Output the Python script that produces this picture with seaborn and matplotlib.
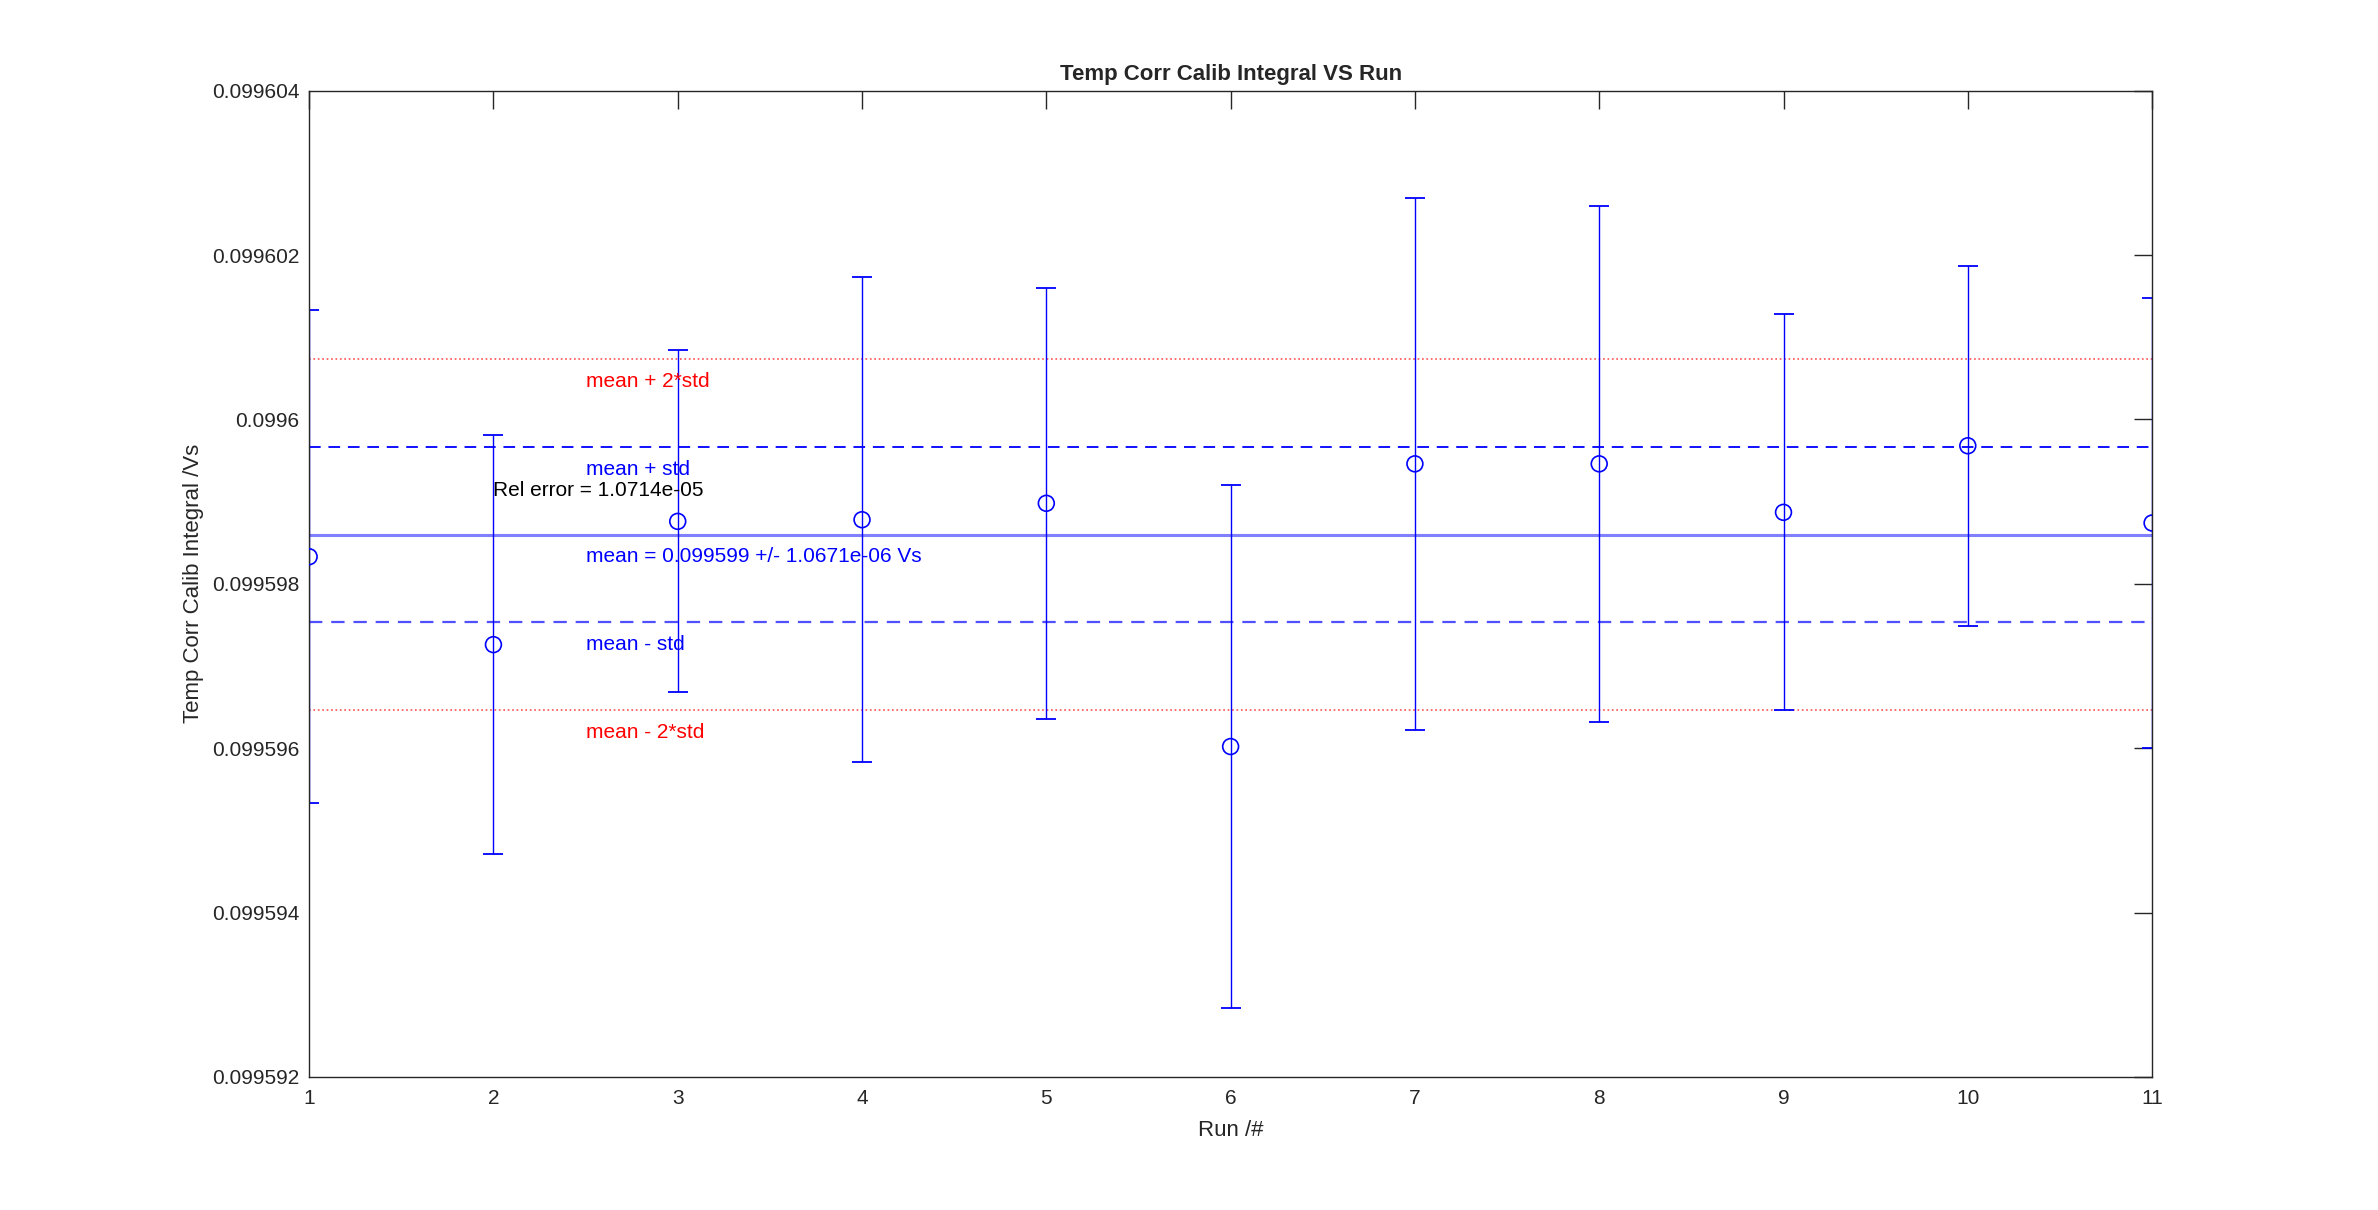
import matplotlib
matplotlib.use('Agg')
import matplotlib.pyplot as plt
import numpy as np
import pandas as pd
import seaborn as sns

# Data
runs = [1, 2, 3, 4, 5, 6, 7, 8, 9, 10, 11]
integral = [0.09959833, 0.09959726, 0.09959876, 0.09959878, 0.09959898, 0.09959602,
            0.09959946, 0.09959946, 0.09959887, 0.09959968, 0.09959874]
integral_err = [3.00e-6, 2.55e-6, 2.08e-6, 2.95e-6, 2.62e-6, 3.18e-6,
                3.24e-6, 3.14e-6, 2.41e-6, 2.19e-6, 2.74e-6]
mean_val = 0.0995986
std_val = 1.0671e-6
rel_error = 1.0714e-05

y_ticks = [0.099592, 0.099594, 0.099596, 0.099598, 0.0996, 0.099602, 0.099604]
y_tick_labels = ['0.099592', '0.099594', '0.099596', '0.099598', '0.0996', '0.099602', '0.099604']

df = pd.DataFrame({'run': runs, 'value': integral, 'err': integral_err})

sns.set_style('white')
plt.rcParams['font.family'] = ['Liberation Sans', 'DejaVu Sans']
plt.rcParams['font.size'] = 15

fig = plt.figure(figsize=(23.78, 12.10), dpi=100)
ax = fig.add_axes([0.13, 0.11, 0.775, 0.815])

# reference lines
ax.axhline(mean_val + 2 * std_val, color='#ff5050', linestyle=':', linewidth=1.2)
ax.axhline(mean_val - 2 * std_val, color='#ff5050', linestyle=':', linewidth=1.2)
ax.axhline(mean_val + std_val, color='#1010ff', linestyle=(0, (6, 4)), linewidth=1.4)
ax.axhline(mean_val - std_val, color='#5050ff', linestyle=(0, (6, 4)), linewidth=1.6)
ax.axhline(mean_val, color='#8080ff', linestyle='-', linewidth=2.2)

# error bars + points
ax.errorbar(df['run'], df['value'], yerr=df['err'], fmt='none', ecolor='#0000ff',
            elinewidth=1.0, capsize=7, capthick=1.3)
sns.scatterplot(data=df, x='run', y='value', ax=ax, marker='o', s=130,
                facecolor='none', edgecolor='#0000ff', linewidth=1.2, zorder=5)

off = 0.27e-6
ax.text(2.5, mean_val + 2 * std_val - off, 'mean + 2*std', color='#ff0000', va='center')
ax.text(2.5, mean_val + std_val - off, 'mean + std', color='#0000ff', va='center')
ax.text(2.5, mean_val - off, 'mean = 0.099599 +/- 1.0671e-06 Vs', color='#0000ff', va='center')
ax.text(2.5, mean_val - std_val - off, 'mean - std', color='#0000ff', va='center')
ax.text(2.5, mean_val - 2 * std_val - off, 'mean - 2*std', color='#ff0000', va='center')
ax.text(2.0, mean_val + 0.5 * std_val, 'Rel error = %.4e' % rel_error, color='black', va='center')

ax.set_xlim(1, 11)
ax.set_ylim(0.099592, 0.099604)
ax.set_xticks(runs)
ax.set_yticks(y_ticks)
ax.set_yticklabels(y_tick_labels)

ax.tick_params(direction='in', length=13, width=1.0, colors='#262626', top=True, right=True,
               labelsize=15)
ax.tick_params(axis='x', pad=9)
ax.tick_params(axis='y', pad=7)
for s in ax.spines.values():
    s.set_color('#262626')
    s.set_linewidth(1.0)

ax.set_title('Temp Corr Calib Integral VS Run', fontsize=16, fontweight='bold', pad=8)
ax.set_xlabel('Run /#', fontsize=16, color='#262626', labelpad=8)
ax.set_ylabel('Temp Corr Calib Integral /Vs', fontsize=16, color='#262626', labelpad=6)

fig.savefig('out.png', dpi=100)
